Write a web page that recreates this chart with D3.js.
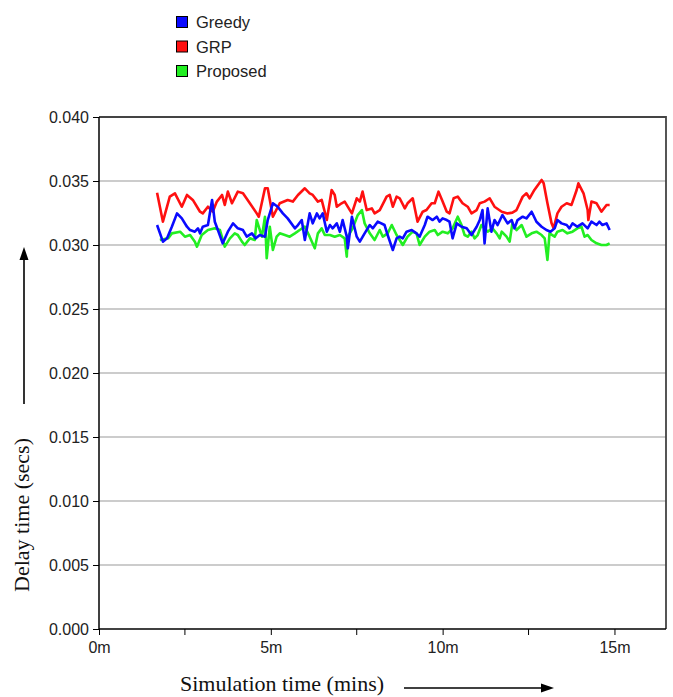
<!DOCTYPE html>
<html><head><meta charset="utf-8">
<script src="https://cdn.jsdelivr.net/npm/d3@7"></script>
<style>
html,body{margin:0;padding:0;background:#fff;}
svg{display:block;}
text{font-family:"Liberation Sans",Arial,sans-serif;}
</style></head>
<body><svg id="chart" width="673" height="697"></svg>
<script>
// ---- data (time in minutes, delay in seconds) ----
const seriesNames = ["Greedy", "GRP", "Proposed"];
const seriesColors = ["#0a0aff", "#ff1010", "#22ee22"];
const yTicks = [0, 0.005, 0.010, 0.015, 0.020, 0.025, 0.030, 0.035, 0.040];
const xTicks = [0, 5, 10, 15];
const xTickLabels = ["0m", "5m", "10m", "15m"];
const xMinorTicks = [2.5, 7.5, 12.5];

const greedyT = [1.69,1.86,1.98,2.12,2.27,2.41,2.56,2.65,2.79,2.88,2.94,3.02,3.17,3.29,3.37,3.46,3.60,3.75,3.90,4.04,4.19,4.30,4.45,4.56,4.68,4.83,4.91,5.06,5.20,5.35,5.49,5.70,5.79,5.90,5.99,6.13,6.22,6.34,6.42,6.51,6.63,6.72,6.80,6.92,7.01,7.09,7.21,7.24,7.36,7.50,7.59,7.73,7.88,7.97,8.11,8.31,8.40,8.55,8.66,8.75,8.84,8.95,9.10,9.24,9.33,9.48,9.56,9.71,9.83,9.91,10.00,10.12,10.20,10.29,10.41,10.55,10.70,10.84,10.99,11.08,11.16,11.22,11.31,11.42,11.51,11.60,11.74,11.89,12.01,12.09,12.18,12.33,12.44,12.59,12.73,12.88,13.02,13.14,13.26,13.34,13.46,13.61,13.69,13.78,13.92,14.07,14.22,14.33,14.48,14.56,14.65,14.77,14.86];
const greedyV = [0.03156,0.03026,0.03052,0.03143,0.03247,0.03208,0.03143,0.03117,0.03104,0.03130,0.03091,0.03143,0.03156,0.03352,0.03182,0.03117,0.03013,0.03104,0.03169,0.03130,0.03117,0.03065,0.03091,0.03052,0.03078,0.03065,0.03195,0.03326,0.03299,0.03247,0.03208,0.03130,0.03156,0.03195,0.03039,0.03247,0.03169,0.03247,0.03208,0.03247,0.03104,0.03156,0.03130,0.03169,0.03104,0.03195,0.03065,0.02974,0.03221,0.03065,0.03026,0.03091,0.03156,0.03130,0.03182,0.03156,0.03078,0.02961,0.03052,0.03065,0.03052,0.03104,0.03117,0.03091,0.03065,0.03156,0.03221,0.03195,0.03221,0.03182,0.03208,0.03195,0.03182,0.03052,0.03169,0.03143,0.03130,0.03078,0.03143,0.03195,0.03273,0.03013,0.03286,0.03104,0.03195,0.03156,0.03234,0.03169,0.03195,0.03130,0.03195,0.03221,0.03208,0.03260,0.03182,0.03143,0.03117,0.03104,0.03130,0.03195,0.03169,0.03156,0.03130,0.03169,0.03143,0.03169,0.03130,0.03182,0.03156,0.03182,0.03156,0.03169,0.03117];

const grpT = [1.69,1.86,2.06,2.21,2.41,2.56,2.73,2.94,3.02,3.17,3.31,3.43,3.58,3.66,3.75,3.87,4.04,4.19,4.39,4.59,4.65,4.83,4.91,5.06,5.26,5.49,5.64,5.79,5.99,6.13,6.22,6.37,6.48,6.63,6.77,6.86,6.92,7.06,7.15,7.30,7.36,7.50,7.59,7.67,7.79,7.94,8.02,8.17,8.37,8.46,8.55,8.66,8.75,8.90,8.98,9.13,9.27,9.42,9.53,9.68,9.77,9.88,10.00,10.12,10.20,10.32,10.44,10.58,10.73,10.84,10.99,11.08,11.22,11.37,11.51,11.72,11.89,12.03,12.15,12.33,12.44,12.53,12.67,12.88,12.94,13.05,13.17,13.23,13.34,13.46,13.61,13.75,13.90,13.95,14.10,14.22,14.24,14.33,14.48,14.62,14.77,14.86];
const grpV = [0.03409,0.03182,0.03378,0.03404,0.03299,0.03391,0.03352,0.03260,0.03247,0.03299,0.03260,0.03339,0.03391,0.03313,0.03417,0.03326,0.03417,0.03404,0.03326,0.03247,0.03221,0.03443,0.03443,0.03221,0.03326,0.03352,0.03339,0.03391,0.03443,0.03404,0.03391,0.03339,0.03352,0.03195,0.03430,0.03391,0.03299,0.03326,0.03339,0.03273,0.03247,0.03365,0.03339,0.03417,0.03273,0.03286,0.03247,0.03273,0.03378,0.03391,0.03299,0.03378,0.03365,0.03286,0.03326,0.03365,0.03182,0.03260,0.03273,0.03326,0.03326,0.03417,0.03339,0.03260,0.03247,0.03365,0.03378,0.03326,0.03299,0.03247,0.03273,0.03326,0.03339,0.03365,0.03299,0.03260,0.03247,0.03253,0.03273,0.03378,0.03404,0.03365,0.03430,0.03508,0.03482,0.03326,0.03169,0.03130,0.03247,0.03299,0.03326,0.03313,0.03430,0.03482,0.03404,0.03273,0.03195,0.03339,0.03326,0.03260,0.03313,0.03313];

const proposedT = [1.77,2.01,2.12,2.36,2.50,2.65,2.79,2.85,2.99,3.17,3.37,3.52,3.66,3.81,3.95,4.04,4.16,4.24,4.39,4.53,4.59,4.74,4.83,4.88,4.97,5.06,5.17,5.26,5.41,5.55,5.70,5.84,5.99,6.13,6.28,6.37,6.48,6.57,6.72,6.86,7.01,7.15,7.21,7.24,7.38,7.53,7.65,7.73,7.88,8.02,8.17,8.26,8.40,8.52,8.66,8.84,8.98,9.13,9.24,9.33,9.48,9.62,9.77,9.86,10.00,10.15,10.29,10.44,10.55,10.64,10.73,10.84,10.93,11.02,11.13,11.22,11.31,11.45,11.57,11.66,11.72,11.86,11.95,12.03,12.15,12.30,12.44,12.59,12.73,12.88,12.97,13.05,13.11,13.26,13.34,13.49,13.63,13.78,13.92,14.04,14.13,14.22,14.33,14.48,14.62,14.77,14.86];
const proposedV = [0.03039,0.03052,0.03091,0.03104,0.03065,0.03078,0.03026,0.02987,0.03078,0.03117,0.03130,0.03117,0.02987,0.03052,0.03091,0.03078,0.03026,0.03000,0.03052,0.03039,0.03195,0.03065,0.03221,0.02896,0.03143,0.02961,0.03065,0.03091,0.03078,0.03065,0.03091,0.03117,0.03143,0.03065,0.02974,0.03091,0.03130,0.03078,0.03078,0.03065,0.03078,0.03052,0.02909,0.03065,0.03130,0.03234,0.03273,0.03169,0.03091,0.03039,0.03117,0.03065,0.03091,0.03156,0.03078,0.03000,0.03065,0.03104,0.03091,0.03000,0.03065,0.03104,0.03117,0.03078,0.03104,0.03091,0.03130,0.03221,0.03156,0.03078,0.03065,0.03104,0.03052,0.03078,0.03156,0.03130,0.03104,0.03130,0.03091,0.03052,0.03104,0.03065,0.03026,0.03169,0.03117,0.03156,0.03065,0.03091,0.03104,0.03078,0.03052,0.02883,0.03091,0.03065,0.03104,0.03117,0.03091,0.03104,0.03130,0.03143,0.03065,0.03078,0.03039,0.03013,0.03000,0.03000,0.03013];

// ---- layout ----
const W = 673, H = 697;
const m = {left: 99, top: 117, right: 7, bottom: 68};
const pw = W - m.left - m.right, ph = H - m.top - m.bottom;

const svg = d3.select("#chart");
const g = svg.append("g").attr("transform", `translate(${m.left},${m.top})`);

const x = d3.scaleLinear().domain([0, 16.5]).range([0, pw]);
const y = d3.scaleLinear().domain([0, 0.040]).range([ph, 0]);

// gridlines
g.selectAll("line.grid").data(yTicks.filter(t => t > 0 && t < 0.040)).enter()
  .append("line").attr("class", "grid")
  .attr("x1", 0).attr("x2", pw)
  .attr("y1", d => y(d)).attr("y2", d => y(d))
  .attr("stroke", "#9a9a9a").attr("stroke-width", 1.2);

// frame top & right
g.append("path")
  .attr("d", `M0,${y(0.040)}H${pw}V${ph}`)
  .attr("fill", "none").attr("stroke", "#444").attr("stroke-width", 1.8);

// series lines
const line = d3.line().x(d => x(d[0])).y(d => y(d[1]));
const series = [
  {name: "Greedy", t: greedyT, v: greedyV, c: seriesColors[0]},
  {name: "GRP", t: grpT, v: grpV, c: seriesColors[1]},
  {name: "Proposed", t: proposedT, v: proposedV, c: seriesColors[2]}
];
[series[2], series[1], series[0]].forEach(s => {
  g.append("path")
    .datum(s.t.map((t, i) => [t, s.v[i]]))
    .attr("d", line)
    .attr("fill", "none").attr("stroke", s.c)
    .attr("stroke-width", 2.6).attr("stroke-linejoin", "round");
});

// axes
const yAxis = d3.axisLeft(y).tickValues(yTicks).tickFormat(d3.format(".3f")).tickSize(6).tickPadding(4);
const ya = g.append("g").call(yAxis);
const xAxis = d3.axisBottom(x).tickValues(xTicks).tickFormat((d, i) => xTickLabels[i]).tickSize(6).tickPadding(4);
const xa = g.append("g").attr("transform", `translate(0,${ph})`).call(xAxis);
g.append("g").attr("transform", `translate(0,${ph})`)
  .selectAll("line").data(xMinorTicks).enter().append("line")
  .attr("x1", d => x(d)).attr("x2", d => x(d)).attr("y1", 0).attr("y2", 6)
  .attr("stroke", "#000");
[ya, xa].forEach(a => {
  a.select(".domain").attr("stroke", "#000").attr("stroke-width", 1.5);
  a.selectAll(".tick line").attr("stroke", "#000");
  a.selectAll("text").attr("font-family", "Liberation Sans, Arial, sans-serif")
    .attr("font-size", 16).attr("fill", "#222");
});
ya.select(".domain").attr("d", `M0,0V${ph}`);
xa.select(".domain").attr("d", `M0,0H${pw}`);
xa.selectAll("text").attr("dy", "0.85em");

// axis titles
svg.append("text")
  .attr("transform", "translate(29,515) rotate(-90)")
  .attr("text-anchor", "middle")
  .style("font-family", "'Liberation Serif','Times New Roman',serif")
  .attr("font-size", 22).attr("fill", "#111")
  .text("Delay time (secs)");
svg.append("text")
  .attr("x", 282).attr("y", 691)
  .attr("text-anchor", "middle")
  .style("font-family", "'Liberation Serif','Times New Roman',serif")
  .attr("font-size", 22).attr("fill", "#111")
  .text("Simulation time (mins)");

// arrows
svg.append("line").attr("x1", 24).attr("x2", 24).attr("y1", 404).attr("y2", 258)
  .attr("stroke", "#000").attr("stroke-width", 1.6);
svg.append("path").attr("d", "M24,247L19.5,260L28.5,260Z").attr("fill", "#000");
svg.append("line").attr("x1", 404).attr("x2", 542).attr("y1", 688).attr("y2", 688)
  .attr("stroke", "#000").attr("stroke-width", 1.6);
svg.append("path").attr("d", "M554,688L541,683.5L541,692.5Z").attr("fill", "#000");

// legend
const leg = svg.append("g").attr("transform", "translate(176,16)");
series.forEach((s, i) => {
  const r = leg.append("g").attr("transform", `translate(0,${i * 24.5})`);
  r.append("rect").attr("x", 0.5).attr("y", 0.5).attr("width", 11).attr("height", 11)
    .attr("fill", s.c).attr("stroke", "#000").attr("stroke-width", 1);
  r.append("text").attr("x", 20).attr("y", 12)
    .attr("font-size", 16.5).attr("fill", "#222").text(s.name);
});
</script>
</body></html>
